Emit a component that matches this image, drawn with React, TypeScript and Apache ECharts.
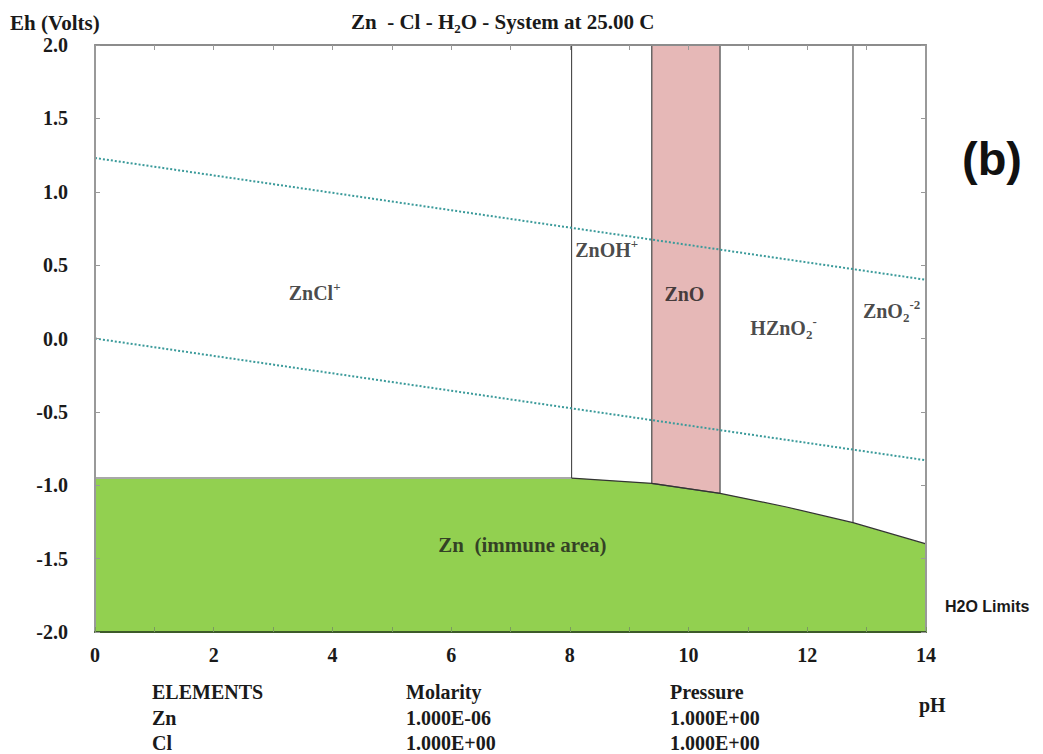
import React, { useEffect, useRef } from "react";
import * as echarts from "echarts";

// Boundary of Zn (immune area): pH vs Eh
const boundaryPH = [0, 8.03, 9.38, 10.53, 11.65, 12.77, 14];
const boundaryEh = [-0.951, -0.951, -0.987, -1.055, -1.148, -1.255, -1.4];

// Water stability lines (pH, Eh)
const waterUpperPH = [0, 14];
const waterUpperEh = [1.23, 0.4];
const waterLowerPH = [0, 14];
const waterLowerEh = [0.0, -0.83];

// Vertical domain boundaries
const verticalPH = [8.03, 12.77];
const verticalBottomEh = [-0.951, -1.255];

// ZnO region polygon
const znoPH = [9.38, 10.53, 10.53, 9.38];
const znoEh = [2.0, 2.0, -1.055, -0.987];

// Region labels
const labelNames = ["ZnCl", "ZnOH", "ZnO", "HZnO2", "ZnO2", "Zn  (immune area)"];
const labelPH = [3.7, 8.62, 9.93, 11.6, 13.42, 7.2];
const labelEh = [0.31, 0.6, 0.3, 0.07, 0.19, -1.41];

// Table
const tableHeaders = ["ELEMENTS", "Molarity", "Pressure"];
const tableElements = ["Zn", "Cl"];
const tableMolarity = ["1.000E-06", "1.000E+00"];
const tablePressure = ["1.000E+00", "1.000E+00"];

const SERIF = "Liberation Serif";
const SANS = "Liberation Sans";

export default function App() {
  const ref = useRef<HTMLDivElement>(null);
  useEffect(() => {
    if (!ref.current) return;
    const chart = echarts.init(ref.current, undefined, { renderer: "svg" });

    const boundary = boundaryPH.map((p, i) => [p, boundaryEh[i]]);
    const flat = boundary.slice(0, 2);
    const curved = boundary.slice(1);
    const zno = znoPH.map((p, i) => [p, znoEh[i]]);

    const labelFmt = [
      "{m|ZnCl}{sup|+}",
      "{m|ZnOH}{sup|+}",
      "{m|ZnO}",
      "{m|HZnO}{sub|2}{sup|-}",
      "{m|ZnO}{sub|2}{sup|-2}",
      "{l|Zn  (immune area)}",
    ];
    const base = { fontFamily: SERIF, fontWeight: "bold", color: "#1a1a1a" };
    const rich = {
      m: { ...base, fontSize: 20, lineHeight: 26, verticalAlign: "middle" },
      l: { ...base, fontSize: 21, lineHeight: 26, verticalAlign: "middle" },
      sup: { ...base, fontSize: 13, lineHeight: 26, verticalAlign: "top" },
      sub: { ...base, fontSize: 13, lineHeight: 26, verticalAlign: "bottom" },
    };

    const axisCommonX = {
      type: "value",
      min: 0,
      max: 14,
      interval: 1,
      splitLine: { show: false },
      z: 5,
    };
    const axisCommonY = {
      type: "value",
      min: -2,
      max: 2,
      interval: 0.5,
      splitLine: { show: false },
      z: 5,
    };

    const lineData = (xs: number[], ys: number[]) => xs.map((x, i) => [x, ys[i]]);

    const txt = (x: number, y: number, text: string, font: string) => ({
      type: "text", x, y,
      style: { text, font, fill: "#1a1a1a", textVerticalAlign: "middle" },
    });

    const graphics: any[] = [
      txt(10, 23, "Eh (Volts)", `bold 21px ${SERIF}`),
      {
        type: "text", x: 351, y: 22,
        style: {
          text: "{t|Zn  - Cl - H}{s|2}{t|O - System at 25.00 C}",
          fill: "#1a1a1a",
          textVerticalAlign: "middle",
          rich: {
            t: { fontFamily: SERIF, fontWeight: "bold", fontSize: 21, fill: "#1a1a1a", lineHeight: 26, verticalAlign: "middle" },
            s: { fontFamily: SERIF, fontWeight: "bold", fontSize: 13, fill: "#1a1a1a", lineHeight: 26, verticalAlign: "bottom" },
          },
        },
      },
      { type: "text", x: 962, y: 158, style: { text: "(b)", font: `bold 47px ${SANS}`, fill: "#111", textVerticalAlign: "middle" } },
      txt(945, 606, "H2O Limits", `bold 16px ${SANS}`),
      txt(919, 705, "pH", `bold 20px ${SERIF}`),
    ];
    const colX = [152, 406, 670];
    const rowY = [692, 718, 743];
    tableHeaders.forEach((h, i) => graphics.push(txt(colX[i], rowY[0], h, `bold 20px ${SERIF}`)));
    tableElements.forEach((el, r) => {
      [el, tableMolarity[r], tablePressure[r]].forEach((v, c) => {
        graphics.push(txt(colX[c], rowY[r + 1], v, `bold 20px ${SERIF}`));
      });
    });

    chart.setOption({
      animation: false,
      backgroundColor: "#ffffff",
      grid: { left: 95, right: 117, top: 45, bottom: 122, containLabel: false },
      xAxis: [
        {
          ...axisCommonX,
          position: "bottom",
          axisLine: { show: true, onZero: false, lineStyle: { color: "#3d5a2a", width: 2 } },
          axisTick: { show: true, inside: true, length: 5, lineStyle: { color: "#7a9a60", width: 1 } },
          axisLabel: {
            show: true,
            margin: 13,
            formatter: (v: number) => (v % 2 === 0 ? String(v) : ""),
            fontFamily: SERIF, fontWeight: "bold", fontSize: 20, color: "#1a1a1a",
          },
        },
        {
          ...axisCommonX,
          position: "top",
          axisLine: { show: true, onZero: false, lineStyle: { color: "#8c8c8c", width: 2 } },
          axisTick: { show: true, inside: true, length: 5, lineStyle: { color: "#999", width: 1 } },
          axisLabel: { show: false },
        },
      ],
      yAxis: [
        {
          ...axisCommonY,
          position: "left",
          axisLine: { show: true, onZero: false, lineStyle: { color: "#999", width: 2 } },
          axisTick: { show: true, inside: true, length: 5, lineStyle: { color: "#999", width: 1 } },
          axisLabel: {
            show: true,
            margin: 27,
            formatter: (v: number) => v.toFixed(1),
            fontFamily: SERIF, fontWeight: "bold", fontSize: 20, color: "#1a1a1a",
          },
        },
        {
          ...axisCommonY,
          position: "right",
          axisLine: { show: true, onZero: false, lineStyle: { color: "#999", width: 2 } },
          axisTick: { show: true, inside: true, length: 5, lineStyle: { color: "#999", width: 1 } },
          axisLabel: { show: false },
        },
      ],
      graphic: graphics,
      series: [
        {
          type: "line",
          data: boundary,
          symbol: "none",
          lineStyle: { width: 0 },
          areaStyle: { color: "#92d050", opacity: 1, origin: "start" },
          z: 1,
        },
        {
          type: "custom",
          data: zno,
          encode: { x: 0, y: 1 },
          renderItem: (params: any, api: any) => {
            if (params.dataIndex !== 0) return null;
            const pts = zno.map((p) => api.coord(p));
            return {
              type: "polygon",
              shape: { points: pts },
              style: { fill: "#e6b8b7", stroke: "#555555", lineWidth: 1.3 },
            };
          },
          z: 2,
        },
        { type: "line", data: flat, symbol: "none", lineStyle: { color: "#a8a8a8", width: 2 }, z: 3 },
        { type: "line", data: curved, symbol: "none", lineStyle: { color: "#333333", width: 1.2 }, z: 3 },
        ...verticalPH.map((p, i) => ({
          type: "line",
          data: [[p, verticalBottomEh[i]], [p, 2]],
          symbol: "none",
          lineStyle: { color: "#333333", width: 1 },
          z: 3,
        })),
        {
          type: "line",
          data: lineData(waterUpperPH, waterUpperEh),
          symbol: "none",
          lineStyle: { color: "#3a9a9a", width: 2, type: [2, 2] },
          z: 4,
        },
        {
          type: "line",
          data: lineData(waterLowerPH, waterLowerEh),
          symbol: "none",
          lineStyle: { color: "#3a9a9a", width: 2, type: [2, 2] },
          z: 4,
        },
        {
          type: "scatter",
          symbolSize: 0,
          data: labelNames.map((n, i) => ({
            name: n,
            value: [labelPH[i], labelEh[i]],
            label: { formatter: labelFmt[i] },
          })),
          label: { show: true, position: "inside", rich },
          silent: true,
          z: 6,
        },
      ],
    } as any);

    return () => chart.dispose();
  }, []);

  return <div ref={ref} style={{ width: 1043, height: 754, position: "absolute", left: 0, top: 0 }} />;
}
